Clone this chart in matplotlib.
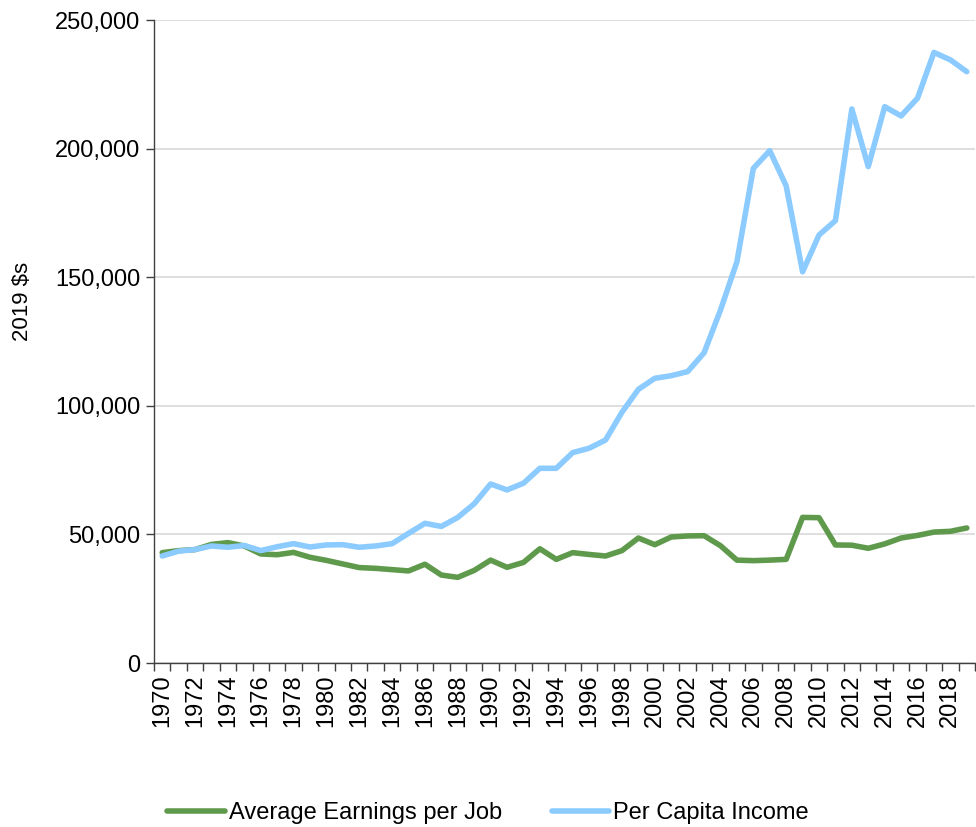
import matplotlib
matplotlib.use("Agg")
import matplotlib.pyplot as plt
from matplotlib.ticker import FuncFormatter, FixedLocator
import numpy as np

plt.rcParams['font.family'] = ['Liberation Sans', 'DejaVu Sans']

years = list(range(1970, 2020))
earnings_per_job = [42900, 43700, 44100, 46100, 46800, 45500, 42400, 42100, 43000, 41100,
                    39900, 38500, 37100, 36800, 36300, 35800, 38400, 34200, 33300, 36000,
                    40000, 37200, 39100, 44400, 40300, 42900, 42200, 41600, 43700, 48600,
                    46000, 49000, 49400, 49500, 45600, 40000, 39800, 40000, 40300, 56600,
                    56500, 45900, 45800, 44600, 46300, 48600, 49600, 50900, 51200, 52500]
per_capita_income = [41600, 43500, 44100, 45500, 45000, 45700, 43700, 45200, 46400, 45100,
                     45900, 46000, 45000, 45500, 46400, 50400, 54300, 53100, 56600, 61900,
                     69600, 67300, 69900, 75700, 75700, 81800, 83500, 86700, 97500, 106400,
                     110700, 111700, 113300, 120600, 137200, 156000, 192300, 199200, 185500, 152100,
                     166400, 172000, 215400, 193000, 216300, 212700, 219600, 237400, 234500, 229900]
series_names = ["Average Earnings per Job", "Per Capita Income"]
y_label = "2019 $s"

fig = plt.figure(figsize=(9.76, 8.27), dpi=100)
ax = fig.add_axes([154/976, 1 - 663/827, (975 - 154)/976, (663 - 20)/827])

x = np.arange(len(years))
ax.plot(x, earnings_per_job, color='#5f9a4c', lw=4.0, label=series_names[0], solid_joinstyle='round', solid_capstyle='round')
ax.plot(x, per_capita_income, color='#8ccbff', lw=4.0, label=series_names[1], solid_joinstyle='round', solid_capstyle='round')

ax.set_xlim(-0.5, len(years) - 0.5)
ax.set_ylim(0, 250000)
ax.set_yticks(np.arange(0, 250001, 50000))
ax.yaxis.set_major_formatter(FuncFormatter(lambda v, p: f"{int(v):,}"))
ax.grid(axis='y', color='#d9d9d9', lw=1.2)
ax.set_axisbelow(True)

ax.set_xticks(x[::2])
ax.set_xticklabels([str(y) for y in years[::2]], rotation=90, fontsize=17)
ax.xaxis.set_minor_locator(FixedLocator(np.arange(-0.5, len(years), 1)))
ax.tick_params(axis='x', which='major', length=0, pad=8)
ax.tick_params(axis='x', which='minor', length=6, color='#404040', width=1)
ax.tick_params(axis='y', which='major', length=6, color='#404040', width=1, labelsize=17, pad=4)

for s in ['top', 'right']:
    ax.spines[s].set_visible(False)
for s in ['left', 'bottom']:
    ax.spines[s].set_color('#404040')
    ax.spines[s].set_linewidth(1)

ax.set_ylabel(y_label, fontsize=16)
ax.yaxis.set_label_coords(-0.147, 0.563)

fig.legend(loc='center', bbox_to_anchor=(0.5, 1 - 813/827), ncol=2, frameon=False,
           fontsize=17, handlelength=2.45, handletextpad=0.15, columnspacing=2.1)

fig.savefig("out.png", dpi=100)
